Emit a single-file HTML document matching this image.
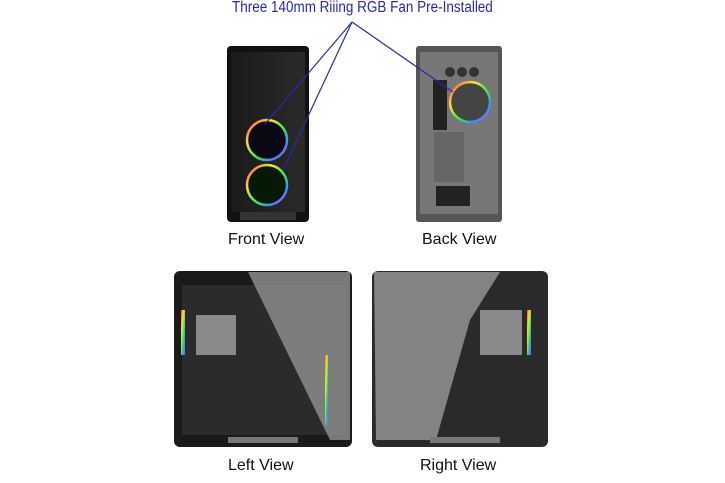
<!DOCTYPE html>
<html><head><style>
html,body{margin:0;padding:0;background:#fff;}
body{width:725px;height:483px;overflow:hidden;position:relative;font-family:"Liberation Sans",sans-serif;}
.t{position:absolute;font-size:16px;color:#111;white-space:nowrap;}
</style></head><body>
<svg width="725" height="483" style="position:absolute;left:0;top:0">
<defs>
<linearGradient id="rb" x1="0" y1="0" x2="1" y2="1">
<stop offset="0" stop-color="#f44"/><stop offset=".3" stop-color="#fd4"/><stop offset=".55" stop-color="#4e4"/><stop offset=".8" stop-color="#48f"/><stop offset="1" stop-color="#c4f"/></linearGradient>
<linearGradient id="glass" x1="0" y1="0" x2="1" y2="0"><stop offset="0" stop-color="#1a1a1a"/><stop offset="1" stop-color="#2a2a2a"/></linearGradient>
</defs>
<rect x="227" y="46" width="82" height="176" rx="4" fill="#111"/>
<rect x="231" y="52" width="74" height="160" fill="url(#glass)"/>
<rect x="240" y="212" width="56" height="8" fill="#333"/>
<circle cx="267" cy="140" r="20" fill="#0a0a14" stroke="url(#rb)" stroke-width="2.5"/>
<circle cx="267" cy="185" r="20" fill="#061806" stroke="url(#rb)" stroke-width="2.5"/>
<rect x="416" y="46" width="86" height="176" rx="3" fill="#555"/>
<rect x="420" y="52" width="78" height="162" fill="#777"/>
<rect x="433" y="80" width="14" height="50" fill="#222"/>
<circle cx="470" cy="102" r="20" fill="#444" stroke="url(#rb)" stroke-width="2.5"/>
<circle cx="450" cy="72" r="5" fill="#333"/><circle cx="462" cy="72" r="5" fill="#333"/><circle cx="474" cy="72" r="5" fill="#333"/>
<rect x="434" y="132" width="30" height="50" fill="#666"/>
<rect x="436" y="186" width="34" height="20" fill="#222"/>
<g stroke="#2a2aa8" stroke-width="1.2">
<line x1="352" y1="22" x2="265" y2="124"/>
<line x1="352" y1="22" x2="283" y2="170"/>
<line x1="352" y1="22" x2="453" y2="92"/>
</g>
<rect x="174" y="271" width="178" height="176" rx="6" fill="#1a1a1a"/>
<rect x="182" y="285" width="164" height="150" fill="#2b2b2b"/>
<rect x="196" y="315" width="40" height="40" fill="#8a8a8a"/>
<polygon points="248,272 350,272 350,440 330,440" fill="#9a9a9a" opacity=".75"/>
<rect x="181" y="310" width="4" height="45" fill="url(#rb)"/>
<rect x="325" y="355" width="3" height="70" fill="url(#rb)"/>
<rect x="228" y="437" width="70" height="6" fill="#777"/>
<rect x="372" y="271" width="176" height="176" rx="6" fill="#2a2a2a"/>
<polygon points="374,272 500,272 470,320 436,440 376,440" fill="#9a9a9a" opacity=".8"/>
<rect x="480" y="310" width="42" height="45" fill="#8a8a8a"/>
<rect x="527" y="310" width="4" height="45" fill="url(#rb)"/>
<rect x="430" y="437" width="70" height="6" fill="#777"/>
</svg>
<div class="t" style="left:232px;top:-1px;font-size:15.5px;color:#2a2aa8;transform:scaleX(0.87);transform-origin:0 0;">Three 140mm Riiing RGB Fan Pre-Installed</div>
<div class="t" style="left:228px;top:231px;">Front View</div>
<div class="t" style="left:422px;top:231px;">Back View</div>
<div class="t" style="left:228px;top:457px;">Left View</div>
<div class="t" style="left:420px;top:457px;">Right View</div>
</body></html>
